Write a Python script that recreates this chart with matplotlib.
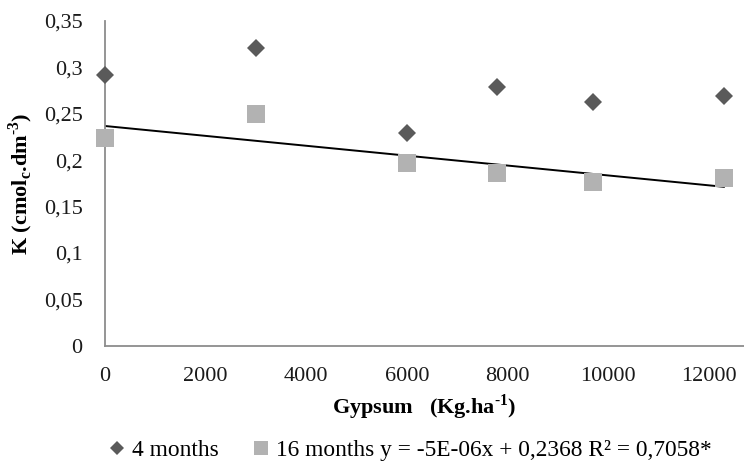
import numpy as np
import matplotlib
matplotlib.use("Agg")
import matplotlib.pyplot as plt
from matplotlib.ticker import FuncFormatter

# Data
gypsum = [0, 3000, 6000, 7800, 9700, 12300]
k_4months = [0.292, 0.321, 0.229, 0.279, 0.263, 0.269]
k_16months = [0.224, 0.250, 0.197, 0.186, 0.176, 0.181]
x_ticks = [0, 2000, 4000, 6000, 8000, 10000, 12000]
y_ticks = [0, 0.05, 0.1, 0.15, 0.2, 0.25, 0.3, 0.35]
label_4 = "4 months"
label_16 = "16 months y = -5E-06x + 0,2368 R² = 0,7058*"

plt.rcParams['font.family'] = ['Liberation Serif', 'DejaVu Serif']

fig = plt.figure(figsize=(7.44, 4.63), dpi=100)
ax = fig.add_axes([0.141, 0.253, 0.859, 0.702])

ax.plot(gypsum, k_4months, linestyle='none', marker='D', markersize=9.2,
        color='#5a5a5a', mew=0, label=label_4, zorder=3, clip_on=False)
ax.plot(gypsum, k_16months, linestyle='none', marker='s', markersize=12.5,
        color='#b2b2b2', mew=0, label=label_16, zorder=3, clip_on=False)

slope, intercept = np.polyfit(gypsum, k_16months, 1)
xf = np.array([min(gypsum), max(gypsum)])
ax.plot(xf, slope * xf + intercept, color='black', lw=1.4, zorder=2)

ax.set_xlim(0, 12700)
ax.set_ylim(0, 0.35)
ax.set_xticks(x_ticks)
ax.set_yticks(y_ticks)

def fmt(v, pos):
    s = ('%.2f' % v).rstrip('0').rstrip('.')
    return s.replace('.', ',')
ax.yaxis.set_major_formatter(FuncFormatter(fmt))
ax.xaxis.set_major_formatter(FuncFormatter(lambda v, p: '%d' % v))

ax.tick_params(length=0, labelsize=16, colors='#1a1a1a')
ax.tick_params(axis='x', pad=15)
ax.tick_params(axis='y', pad=16)
for s in ['top', 'right']:
    ax.spines[s].set_visible(False)
for s in ['left', 'bottom']:
    ax.spines[s].set_color('#8c8c8c')
    ax.spines[s].set_linewidth(1.3)

hy = '\u2010'
ax.set_xlabel('Gypsum   (Kg.ha$^{\\mathregular{' + hy + '1}}$)', fontsize=16,
              fontweight='bold', labelpad=5)
ax.set_ylabel('K (cmol$_{\\mathregular{c}}$.dm$^{\\mathregular{' + hy + '3}}$)', fontsize=16,
              fontweight='bold', labelpad=6)

leg = fig.legend(loc='lower center', bbox_to_anchor=(0.551, -0.042), ncol=2, frameon=False,
                 fontsize=16.8, markerscale=0.75, handlelength=0.8, handletextpad=0.25,
                 columnspacing=1.4)

fig.savefig('out.png', dpi=100)
